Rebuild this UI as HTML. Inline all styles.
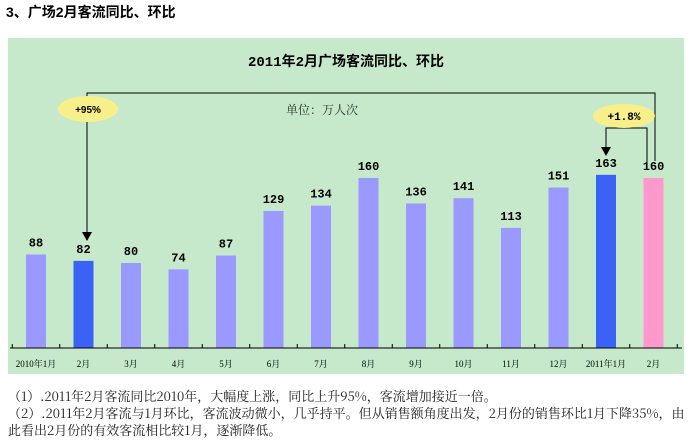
<!DOCTYPE html>
<html><head><meta charset="utf-8"><style>
body{margin:0;width:693px;height:447px;background:#fff;overflow:hidden;font-family:"Liberation Serif","Noto Serif CJK SC","Noto Sans CJK SC",serif}
</style></head><body>
<svg width="693" height="447" xmlns="http://www.w3.org/2000/svg" style="position:absolute;left:0;top:0">
<text x="6" y="17" font-size="14" font-weight="bold" font-family="Liberation Sans,Noto Sans CJK SC,sans-serif" fill="#000">3、广场2月客流同比、环比</text>
<rect x="8" y="38" width="676" height="336" fill="#c6e9cb"/>
<text x="346" y="66" font-size="14" font-weight="bold" text-anchor="middle" font-family="Liberation Mono,Noto Sans CJK SC,monospace">2011年2月广场客流同比、环比</text>
<text x="322" y="114" font-size="12" text-anchor="middle" fill="#333" font-family="Noto Serif CJK SC,serif">单位：万人次</text>
<g id="bars"></g>
<line x1="10" y1="348" x2="682" y2="348" stroke="#000" stroke-width="1"/>
<polyline points="87,234 87,93 655,93 655,161" fill="none" stroke="#000"/>
<polygon points="82,232 92,232 87,241" fill="#000"/>
<polyline points="647,168 647,128 606,128 606,148" fill="none" stroke="#000"/>
<polygon points="601,147 611,147 606,156" fill="#000"/>
<ellipse cx="88" cy="109" rx="30" ry="13" fill="#f7f08a"/>
<text x="88" y="113" font-size="10" font-weight="bold" text-anchor="middle" font-family="Liberation Sans,sans-serif">+95%</text>
<ellipse cx="624" cy="116" rx="31" ry="12" fill="#f7f08a"/>
<text x="624" y="120" font-size="11" font-weight="bold" text-anchor="middle" font-family="Liberation Mono,monospace">+1.8%</text>
<text font-size="13" fill="#222" font-family="Noto Serif CJK SC,serif" textLength="0">
<tspan x="8" y="401">（1）.2011年2月客流同比2010年，大幅度上涨，同比上升95%，客流增加接近一倍。</tspan>
<tspan x="8" y="418">（2）.2011年2月客流与1月环比，客流波动微小，几乎持平。但从销售额角度出发，2月份的销售环比1月下降35%，由</tspan>
<tspan x="8" y="435">此看出2月份的有效客流相比较1月，逐渐降低。</tspan>
</text>
</svg>
<script>
var v=[88,82,80,74,87,129,134,160,136,141,113,151,163,160];
var lab=["2010年1月","2月","3月","4月","5月","6月","7月","8月","9月","10月","11月","12月","2011年1月","2月"];
var g=document.getElementById("bars"),s="";
for(var i=0;i<14;i++){var cx=36+i*47.5,h=v[i]*1.0625,y=348-h;
var c=i==1||i==12?"#3a63f5":i==13?"#ff99cc":"#9999ff";
s+='<rect x="'+(cx-10)+'" y="'+y+'" width="20" height="'+h+'" fill="'+c+'"/>';
s+='<text x="'+cx+'" y="'+(y-8)+'" font-size="12" font-weight="bold" text-anchor="middle" font-family="Liberation Mono,monospace">'+v[i]+'</text>';
s+='<text x="'+cx+'" y="367" font-size="9" text-anchor="middle" font-family="Liberation Serif,Noto Serif CJK SC,serif">'+lab[i]+'</text>';
var tx=cx-23.75;s+='<line x1="'+tx+'" y1="344" x2="'+tx+'" y2="348" stroke="#000"/>';}
s+='<line x1="'+(36+13*47.5+23.75)+'" y1="344" x2="'+(36+13*47.5+23.75)+'" y2="348" stroke="#000"/>';
g.innerHTML=s;
</script>
</body></html>
